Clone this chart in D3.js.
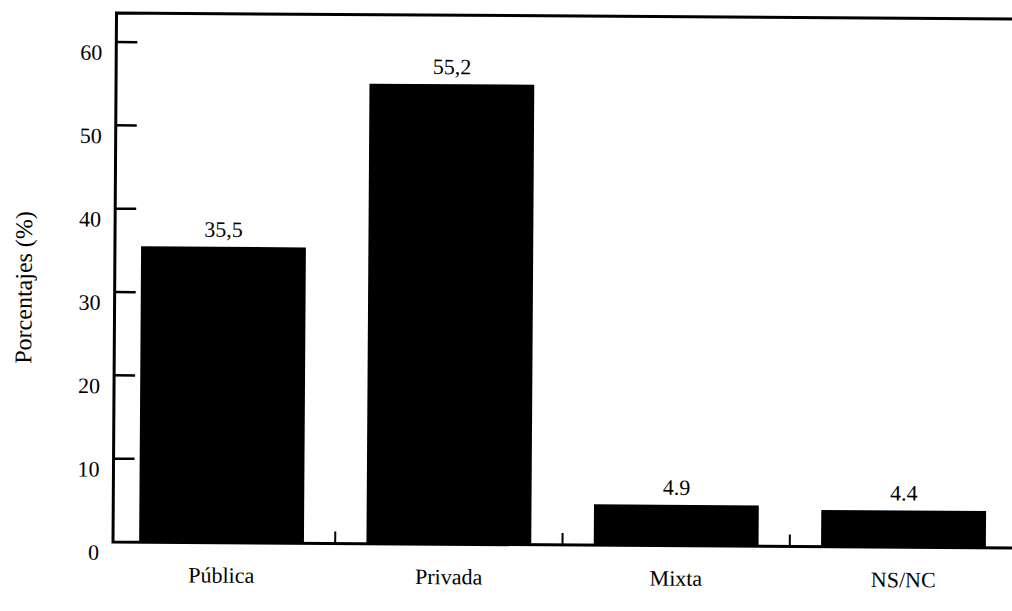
<!DOCTYPE html>
<html>
<head>
<meta charset="utf-8">
<script src="https://cdn.jsdelivr.net/npm/d3@7"></script>
<style>
  body { margin: 0; background: #fff; }
</style>
</head>
<body>
<script>
// Data
var categories = ["Pública", "Privada", "Mixta", "NS/NC"];
var values = [35.5, 55.2, 4.9, 4.4];
var valueLabels = ["35,5", "55,2", "4.9", "4.4"];
var yTicks = [0, 10, 20, 30, 40, 50, 60];

var FONT = "'Liberation Serif', 'DejaVu Serif', serif";

// Canvas / plot edges
var W = 1012, H = 611;
var plotLeft = 113, plotRight = 1012, plotTop = 13, plotBottom = 542;

var svg = d3.select("body")
    .append("svg")
    .attr("width", W)
    .attr("height", H)
    .style("font-family", FONT);

// the scan is tilted a little
var g = svg.append("g")
    .attr("transform", "rotate(0.38," + plotLeft + "," + plotBottom + ")");

// Set the ranges
var x = d3.scaleBand()
    .domain(categories)
    .range([plotLeft, plotRight])
    .paddingInner(0.275)
    .paddingOuter(0.115);

var y = d3.scaleLinear()
    .domain([0, 60])
    .range([plotBottom, 42]);

// Bars
g.selectAll(".bar")
    .data(values)
    .enter()
    .append("rect")
    .attr("class", "bar")
    .attr("x", function (d, i) { return x(categories[i]); })
    .attr("width", x.bandwidth())
    .attr("y", function (d) { return y(d); })
    .attr("height", function (d) { return y(0) - y(d); })
    .style("fill", "#000");

// Value labels
g.selectAll(".val")
    .data(values)
    .enter()
    .append("text")
    .attr("class", "val")
    .attr("x", function (d, i) { return x(categories[i]) + x.bandwidth() / 2; })
    .attr("y", function (d) { return y(d) - 10; })
    .attr("font-family", FONT)
    .style("text-anchor", "middle")
    .style("font-size", "22px")
    .text(function (d, i) { return valueLabels[i]; });

// Frame: top line, left axis, bottom axis
g.append("path")
    .attr("d", "M" + plotRight + "," + plotTop + "H" + plotLeft + "V" + plotBottom + "H" + plotRight)
    .style("fill", "none")
    .style("stroke", "#000")
    .style("stroke-width", 3);

// Y ticks point inwards
g.selectAll(".ytick")
    .data(yTicks.slice(1))
    .enter()
    .append("line")
    .attr("class", "ytick")
    .attr("x1", plotLeft)
    .attr("x2", plotLeft + 21)
    .attr("y1", function (d) { return y(d); })
    .attr("y2", function (d) { return y(d); })
    .style("stroke", "#000")
    .style("stroke-width", 2.5);

g.selectAll(".ylab")
    .data(yTicks)
    .enter()
    .append("text")
    .attr("class", "ylab")
    .attr("x", 99)
    .attr("y", function (d) { return y(d) + 18; })
    .attr("font-family", FONT)
    .style("text-anchor", "end")
    .style("font-size", "22px")
    .text(function (d) { return d; });

// X ticks between the categories
var gap = (x.step() - x.bandwidth()) / 2;
g.selectAll(".xtick")
    .data(categories.slice(1))
    .enter()
    .append("line")
    .attr("class", "xtick")
    .attr("x1", function (d) { return x(d) - gap; })
    .attr("x2", function (d) { return x(d) - gap; })
    .attr("y1", plotBottom)
    .attr("y2", plotBottom - 12)
    .style("stroke", "#000")
    .style("stroke-width", 2);

// Category labels
g.selectAll(".xlab")
    .data(categories)
    .enter()
    .append("text")
    .attr("class", "xlab")
    .attr("x", function (d) { return x(d) + x.bandwidth() / 2; })
    .attr("y", 582)
    .attr("font-family", FONT)
    .style("text-anchor", "middle")
    .style("font-size", "22px")
    .text(function (d) { return d; });

// Y axis title
g.append("text")
    .attr("transform", "translate(30,288) rotate(-90)")
    .attr("font-family", FONT)
    .style("text-anchor", "middle")
    .style("font-size", "24px")
    .text("Porcentajes (%)");
</script>
</body>
</html>
